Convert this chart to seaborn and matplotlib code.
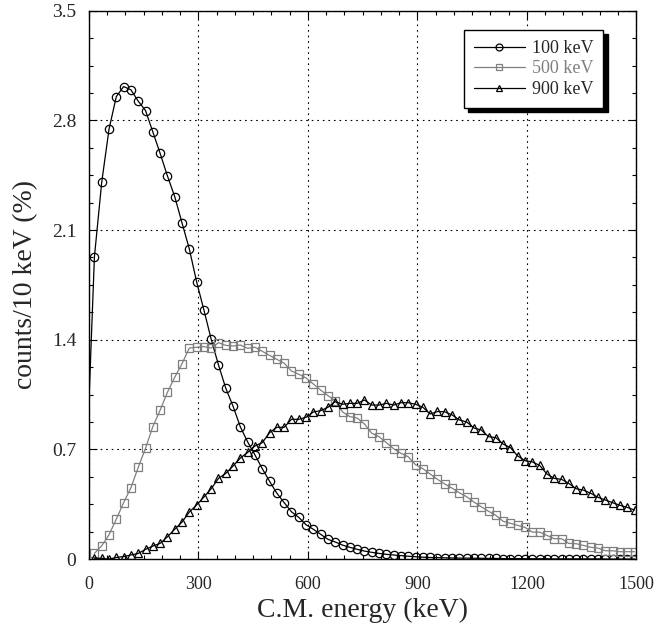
import numpy as np
import pandas as pd
import matplotlib
matplotlib.use("Agg")
import matplotlib.pyplot as plt
from matplotlib.ticker import MultipleLocator
import seaborn as sns

# bin centres (keV), one marker every 20 keV
energy = np.arange(15, 1500, 20)

# 100 keV beam: line starts at E=0 without a marker
e100_start = 0
v100_start = 1.0
counts_100 = [
    1.93, 2.405, 2.744, 2.952, 3.016, 2.995, 2.923, 2.863, 2.727, 2.59,
    2.446, 2.314, 2.146, 1.98, 1.77, 1.59, 1.403, 1.239, 1.09, 0.975,
    0.843, 0.747, 0.664, 0.577, 0.496, 0.42, 0.36, 0.302, 0.266, 0.219,
    0.19, 0.158, 0.126, 0.109, 0.089, 0.075, 0.062, 0.051, 0.043, 0.036,
    0.030, 0.026, 0.022, 0.018, 0.015, 0.012, 0.010, 0.009, 0.008, 0.007,
    0.006, 0.006, 0.005, 0.005, 0.004, 0.004, 0.003, 0.003, 0.003, 0.002,
    0.002, 0.002, 0.002, 0.001, 0.001, 0.001, 0.001, 0.001, 0.001, 0.001,
    0.0, 0.0, 0.0, 0.0, 0.0,
]
counts_500 = [
    0.036, 0.085, 0.155, 0.255, 0.36, 0.455, 0.585, 0.707, 0.845, 0.95,
    1.064, 1.16, 1.247, 1.347, 1.352, 1.356, 1.347, 1.381, 1.364, 1.36,
    1.366, 1.345, 1.352, 1.326, 1.30, 1.275, 1.25, 1.20, 1.18, 1.156,
    1.117, 1.079, 1.043, 1.011, 0.939, 0.909, 0.90, 0.862, 0.803, 0.781,
    0.743, 0.704, 0.675, 0.653, 0.602, 0.577, 0.543, 0.509, 0.479, 0.453,
    0.423, 0.398, 0.364, 0.334, 0.305, 0.279, 0.241, 0.228, 0.215, 0.202,
    0.172, 0.172, 0.151, 0.13, 0.13, 0.10, 0.098, 0.087, 0.075, 0.070,
    0.053, 0.053, 0.047, 0.047, 0.047,
]
counts_900 = [
    0.005, 0.005, 0.0, 0.01, 0.016, 0.026, 0.036, 0.062, 0.083, 0.10,
    0.142, 0.19, 0.236, 0.30, 0.345, 0.396, 0.449, 0.515, 0.547, 0.594,
    0.645, 0.681, 0.722, 0.743, 0.807, 0.841, 0.841, 0.892, 0.892, 0.905,
    0.939, 0.947, 0.969, 1.005, 0.988, 0.994, 0.994, 1.015, 0.983, 0.983,
    0.994, 0.983, 0.998, 0.998, 0.988, 0.969, 0.926, 0.942, 0.94, 0.92,
    0.888, 0.875, 0.837, 0.824, 0.781, 0.775, 0.734, 0.711, 0.658, 0.628,
    0.620, 0.598, 0.543, 0.515, 0.509, 0.483, 0.449, 0.44, 0.42, 0.394,
    0.377, 0.36, 0.343, 0.33, 0.313,
]
labels = ["100 keV", "500 keV", "900 keV"]
x_ticks = [0, 300, 600, 900, 1200, 1500]
y_ticks = [0, 0.7, 1.4, 2.1, 2.8, 3.5]
y_ticklabels = ["0", "0.7", "1.4", "2.1", "2.8", "3.5"]


def main():
    sns.set_style("ticks")
    plt.rcParams["font.family"] = ["Liberation Serif", "DejaVu Serif"]

    fig = plt.figure(figsize=(6.54, 6.31), dpi=100)
    ax = fig.add_axes([0.136, 0.114, 0.837, 0.869])

    df100 = pd.DataFrame({"E": np.concatenate([[e100_start], energy]),
                          "v": np.concatenate([[v100_start], counts_100])})
    df500 = pd.DataFrame({"E": energy, "v": counts_500})
    df900 = pd.DataFrame({"E": energy, "v": counts_900})

    common = dict(ax=ax, linewidth=0.9, markersize=6, markerfacecolor="none",
                  markeredgewidth=0.9, legend=False)
    sns.lineplot(data=df100, x="E", y="v", color="black", marker="o",
                 markeredgecolor="black",
                 markevery=list(range(1, len(df100))), label=labels[0], **common)
    sns.lineplot(data=df500, x="E", y="v", color="#7f7f7f", marker="s",
                 markeredgecolor="#7f7f7f", label=labels[1], **common)
    sns.lineplot(data=df900, x="E", y="v", color="black", marker="^",
                 markeredgecolor="black", label=labels[2], **common)

    ax.set_xlim(0, 1500)
    ax.set_ylim(0, 3.5)
    ax.set_xticks(x_ticks)
    ax.set_yticks(y_ticks, y_ticklabels)
    ax.xaxis.set_minor_locator(MultipleLocator(50))
    ax.yaxis.set_minor_locator(MultipleLocator(0.175))
    ax.tick_params(which="both", direction="in", top=True, right=True,
                   color="black", labelsize=14, width=0.8)
    ax.tick_params(which="major", length=6)
    ax.tick_params(axis="x", which="major", pad=12, labelsize=13)
    ax.tick_params(axis="y", which="major", pad=9)
    ax.tick_params(which="minor", length=3)
    ax.grid(True, which="major", color="black", linestyle=(0, (1.5, 3.5)),
            linewidth=0.8)
    for s in ax.spines.values():
        s.set_color("black")
        s.set_linewidth(1.0)

    ax.set_xlabel("C.M. energy (keV)", fontsize=20, labelpad=4)
    ax.set_ylabel("counts/10 keV (%)", fontsize=20, labelpad=10)

    handles, lbls = ax.get_legend_handles_labels()
    leg = ax.legend(handles, lbls, loc="upper right", bbox_to_anchor=(0.94, 0.965),
                    fontsize=13, frameon=True, fancybox=False, edgecolor="black",
                    framealpha=1, borderpad=0.55, handlelength=2.8,
                    labelspacing=0.2, handletextpad=0.4, borderaxespad=0,
                    shadow={"color": "black", "alpha": 1, "ox": 3, "oy": -3})
    leg.get_frame().set_linewidth(1.0)
    leg.get_texts()[1].set_color("#7f7f7f")
    for h in leg.legend_handles:
        h.set_markevery([1])
        h.set_markersize(5)

    fig.savefig("out.png", dpi=100)
    plt.close()


if __name__ == "__main__":
    main()
